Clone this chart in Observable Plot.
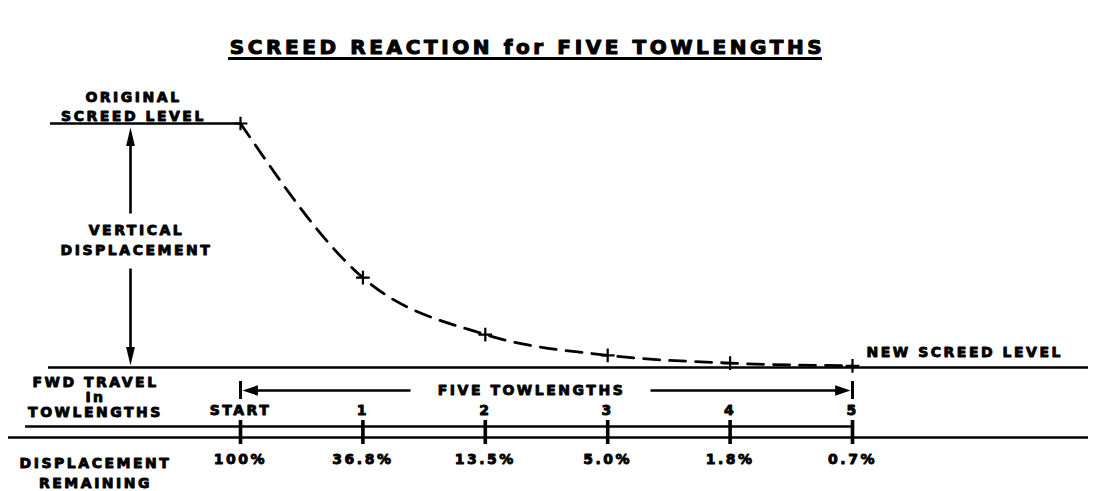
<!DOCTYPE html>
<html><head><meta charset="utf-8">
<script src="https://cdn.jsdelivr.net/npm/d3@7"></script>
<script src="https://cdn.jsdelivr.net/npm/@observablehq/plot@0.6"></script>
<style>
body{margin:0;background:#fff}
svg{font-family:"DejaVu Sans",sans-serif}
svg g[aria-label=text]{letter-spacing:0.18em}
</style>
</head><body><div id="chart"></div>
<script>
// ---- data ----
const towlengths = [0, 1, 2, 3, 4, 5];
const travelLabels = ["START", "1", "2", "3", "4", "5"];
const remaining = [100, 36.8, 13.5, 5.0, 1.8, 0.7];
const remainingLabels = ["100%", "36.8%", "13.5%", "5.0%", "1.8%", "0.7%"];
const titleText = "SCREED REACTION for FIVE TOWLENGTHS";

const data = towlengths.map((t, i) => ({t, r: remaining[i], top: travelLabels[i], bot: remainingLabels[i]}));

// helpers: pixel -> data for annotation placement
const X0 = 240, X5 = 852, Y100 = 123, Y0 = 367;
const fx = px => (px - X0) / (X5 - X0) * 5;
const fy = py => (Y0 - py) / (Y0 - Y100) * 100;

// filled arrowhead symbol: tip at the dot position, pointing along (ux, uy)
function head(ux, uy, lenK, halfK) {
  return {
    draw(ctx, size) {
      const r = Math.sqrt(size / Math.PI);
      const L = r * lenK, H = r * halfK;
      const px = -uy, py = ux;
      ctx.moveTo(0, 0);
      ctx.lineTo(-ux * L + px * H, -uy * L + py * H);
      ctx.lineTo(-ux * L - px * H, -uy * L - py * H);
      ctx.closePath();
    }
  };
}

const ink = "#000";
const bold = {fontWeight: "bold", fill: ink, stroke: ink, strokeWidth: 0.9};

const chart = Plot.plot({
  width: 1093, height: 491,
  margin: 0,
  x: {domain: [0, 5], range: [X0, X5], axis: null},
  y: {domain: [0, 100], range: [Y0, Y100], axis: null},
  marks: [
    // title
    Plot.text([titleText], {x: fx(527), y: fy(47), text: d => d, fontSize: 20, ...bold, strokeWidth: 1.1}),
    Plot.ruleY([fy(58)], {x1: fx(228), x2: fx(822), strokeWidth: 3, stroke: ink}),
    // original & new screed level lines
    Plot.ruleY([100], {x1: fx(50), x2: 0, strokeWidth: 2.6, stroke: ink}),
    Plot.ruleY([0], {x1: fx(48), x2: fx(1088), strokeWidth: 2.6, stroke: ink}),
    // left labels
    Plot.text(["ORIGINAL\nSCREED LEVEL"], {x: fx(133), y: fy(105), text: d => d, fontSize: 14, lineHeight: 1.35, ...bold}),
    Plot.text(["VERTICAL\nDISPLACEMENT"], {x: fx(136), y: fy(238), text: d => d, fontSize: 14, lineHeight: 1.45, ...bold}),
    Plot.text(["FWD TRAVEL\nIn\nTOWLENGTHS"], {x: fx(95), y: fy(397), text: d => d, fontSize: 14, lineHeight: 1.08, ...bold}),
    Plot.text(["DISPLACEMENT\nREMAINING"], {x: fx(95), y: fy(471), text: d => d, fontSize: 14, lineHeight: 1.43, ...bold}),
    Plot.text(["NEW SCREED LEVEL"], {x: fx(866), y: fy(352), text: d => d, textAnchor: "start", fontSize: 14, ...bold}),
    // vertical displacement arrow
    Plot.link([0], {x1: fx(130), x2: fx(130), y1: fy(213), y2: fy(135), strokeWidth: 2.6, stroke: ink}),
    Plot.link([0], {x1: fx(130), x2: fx(130), y1: fy(268), y2: fy(356), strokeWidth: 2.6, stroke: ink}),
    Plot.dot([0], {x: fx(130), y: fy(127), r: 8, symbol: head(0, -1, 2.3, 0.55), fill: ink}),
    Plot.dot([0], {x: fx(130), y: fy(365), r: 8, symbol: head(0, 1, 2.3, 0.55), fill: ink}),
    // dashed reaction curve
    Plot.line(data, {x: "t", y: "r", curve: "monotone-x", stroke: ink, strokeWidth: 2.8, strokeDasharray: "16,10"}),
    Plot.dot(data, {x: "t", y: "r", symbol: "plus", r: 4.5, stroke: ink, strokeWidth: 2.2}),
    // five towlengths dimension arrow
    Plot.link([0], {x1: fx(410), x2: fx(252), y1: fy(390), y2: fy(390), strokeWidth: 2.6, stroke: ink}),
    Plot.link([0], {x1: fx(650), x2: fx(840), y1: fy(390), y2: fy(390), strokeWidth: 2.6, stroke: ink}),
    Plot.dot([0], {x: fx(242), y: fy(390), r: 7, symbol: head(-1, 0, 2.2, 0.75), fill: ink}),
    Plot.dot([0], {x: fx(850), y: fy(390), r: 7, symbol: head(1, 0, 2.2, 0.75), fill: ink}),
    Plot.ruleX([0, 5], {y1: fy(381), y2: fy(399), strokeWidth: 3, stroke: ink}),
    Plot.text(["FIVE TOWLENGTHS"], {x: fx(531), y: fy(390), text: d => d, fontSize: 14, ...bold}),
    // travel labels
    Plot.text(data, {x: "t", y: fy(410), text: "top", fontSize: 14, ...bold}),
    // ruler
    Plot.ruleY([fy(426)], {x1: fx(25), x2: 5, strokeWidth: 2.6, stroke: ink}),
    Plot.ruleX([5], {y1: fy(426), y2: fy(437), strokeWidth: 2.6, stroke: ink}),
    Plot.ruleY([fy(437)], {x1: fx(8), x2: fx(1088), strokeWidth: 2.6, stroke: ink}),
    Plot.ruleX(data, {x: "t", y1: fy(420), y2: fy(444), strokeWidth: 3.6, stroke: ink}),
    // remaining labels
    Plot.text(data, {x: "t", y: fy(459), text: "bot", fontSize: 14, ...bold})
  ]
});
document.getElementById("chart").appendChild(chart);
</script>
</body></html>
